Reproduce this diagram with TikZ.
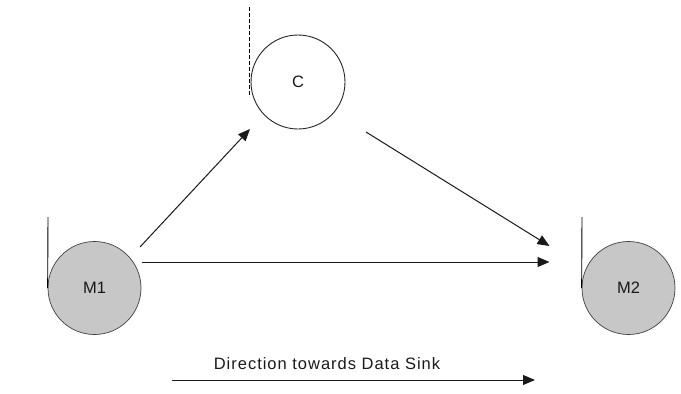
\documentclass[tikz,border=0pt]{standalone}
\usepackage{fontspec}
\setmainfont{Liberation Sans}
\usetikzlibrary{arrows.meta,calc}
\begin{document}
\begin{tikzpicture}[x=1pt,y=-1pt,
  lbl/.style={font=\fontsize{16.5}{18}\selectfont, text=black!90},
  motebox/.style={circle, draw=black!75, line width=0.7pt, fill=black!22, minimum size=93pt, inner sep=0pt, lbl},
  clusterbox/.style={circle, draw=black!85, line width=0.9pt, fill=white, minimum size=94pt, inner sep=0pt, lbl},
  arr/.style={draw=black!90, line width=1pt, -{Triangle[length=12pt,width=10pt]}},
  tail/.style={draw=black, line width=0.9pt}
]
\useasboundingbox (0,0) rectangle (681,394);
% nodes
\node[motebox] (M1) at (94.5,288) {M1};
\node[motebox] (M2) at (628.5,288) {M2};
\node[clusterbox] (C) at (298,82) {C};
% vertical marks
\coordinate (m1top) at (48,217);
\coordinate (m2top) at (582,217);
\coordinate (ctop) at (249,7);
\coordinate (cbot) at (249,97);
\draw[tail] (m1top) -- (M1.west);
\draw[tail] (m2top) -- (M2.west);
\draw[tail, dashed, dash pattern=on 4pt off 2pt] (ctop) -- (cbot);
% connector end points
\coordinate (a1s) at ($(M1.center)+(45.5,-41)$);
\coordinate (a1e) at ($(C.center)+(-48,47)$);
\coordinate (a2s) at ($(C.center)+(68,50)$);
\coordinate (a2e) at ($(M2.center)+(-79,-42)$);
\coordinate (a3s) at ($(M1.center)+(47.5,-26)$);
\coordinate (a3e) at ($(M2.center)+(-79,-26)$);
\draw[arr] (a1s) -- (a1e);
\draw[arr] (a2s) -- (a2e);
\draw[arr] (a3s) -- (a3e);
% direction arrow
\coordinate (ds) at (172,380);
\coordinate (de) at (535,380);
\draw[arr] (ds) -- (de);
\node[lbl, anchor=base] (dir) at (327,369) {\addfontfeature{LetterSpace=6}Direction towards Data Sink};
\end{tikzpicture}
\end{document}
